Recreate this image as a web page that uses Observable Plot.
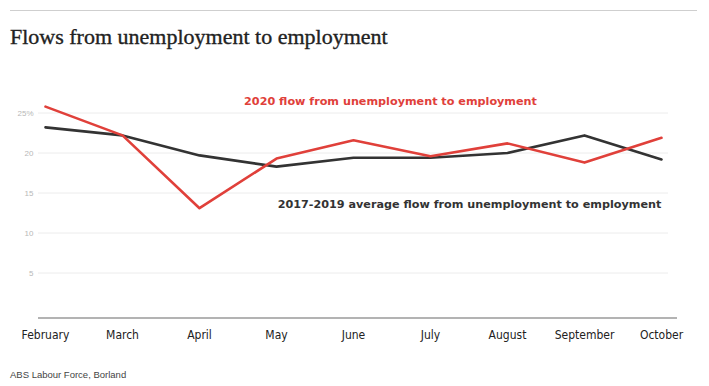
<!DOCTYPE html>
<html>
<head>
<meta charset="utf-8">
<script src="https://cdn.jsdelivr.net/npm/d3@7"></script>
<script src="https://cdn.jsdelivr.net/npm/@observablehq/plot@0.6"></script>
<style>
  html, body { margin: 0; padding: 0; background: #fff; }
  #wrap { position: relative; width: 709px; height: 386px; overflow: hidden; }
  #rule { position: absolute; left: 10px; top: 10px; width: 687px; height: 0; border-top: 1px solid #cfcfcf; }
  #title { position: absolute; left: 10px; top: 24px; font-family: "Liberation Serif", serif; font-size: 22px; color: #222; white-space: nowrap; -webkit-text-stroke: 0.35px #222; }
  #chart { position: absolute; left: 0; top: 60px; }
  #caption { position: absolute; left: 10px; top: 369px; font-family: "Liberation Sans", Arial, sans-serif; font-size: 9.5px; color: #444; }
</style>
</head>
<body>
<div id="wrap">
  <div id="rule"></div>
  <div id="title">Flows from unemployment to employment</div>
  <div id="chart"></div>
  <div id="caption">ABS Labour Force, Borland</div>
</div>
<script>
const months = ["February", "March", "April", "May", "June", "July", "August", "September", "October"];
const flow2020 = [25.8, 22.2, 13.1, 19.3, 21.6, 19.6, 21.2, 18.8, 21.9];
const avg2017to2019 = [23.2, 22.2, 19.7, 18.3, 19.4, 19.4, 20.0, 22.2, 19.2];
const yTicks = [5, 10, 15, 20, 25];
const label2020 = {text: "2020 flow from unemployment to employment", month: "July", value: 26.4};
const labelAvg = {text: "2017-2019 average flow from unemployment to employment", month: "August", value: 13.6};

const rows2020 = months.map((m, i) => ({month: m, value: flow2020[i]}));
const rowsAvg = months.map((m, i) => ({month: m, value: avg2017to2019[i]}));

const textStyle = {x: "month", y: "value", text: "text", fontWeight: "bold", fontSize: 11.2,
  fontFamily: "DejaVu Sans, sans-serif", textAnchor: "middle"};

const chart = Plot.plot({
  width: 709,
  height: 300,
  marginLeft: 38,
  marginRight: 32,
  marginTop: 52.5,
  marginBottom: 47.5,
  x: {type: "point", domain: months, range: [42, 663], padding: 0},
  y: {domain: [0, 25]},
  style: {background: "transparent", overflow: "visible"},
  marks: [
    Plot.ruleY(yTicks, {stroke: "#ececec", strokeWidth: 1, insetRight: 9}),
    Plot.ruleY([0], {dy: 5, stroke: "#9a9a9a", strokeWidth: 1.5}),
    Plot.axisY({ticks: yTicks, tickSize: 0, tickPadding: 5, label: null,
      tickFormat: d => d === 25 ? "25%" : String(d),
      fontSize: 8, color: "#b8b8b8", fontFamily: "Liberation Sans, Arial, sans-serif"}),
    Plot.axisX({tickSize: 0, tickPadding: 17, label: null, fontSize: 12,
      fontFamily: "DejaVu Sans Condensed, DejaVu Sans, sans-serif", color: "#222"}),
    Plot.line(rowsAvg, {x: "month", y: "value", stroke: "#333333", strokeWidth: 2.6}),
    Plot.line(rows2020, {x: "month", y: "value", stroke: "#e0403a", strokeWidth: 2.6}),
    Plot.text([label2020], {...textStyle, dx: -40, fill: "#e0403a"}),
    Plot.text([labelAvg], {...textStyle, dx: -38, fill: "#333333"})
  ]
});

document.getElementById("chart").appendChild(chart);
</script>
</body>
</html>
